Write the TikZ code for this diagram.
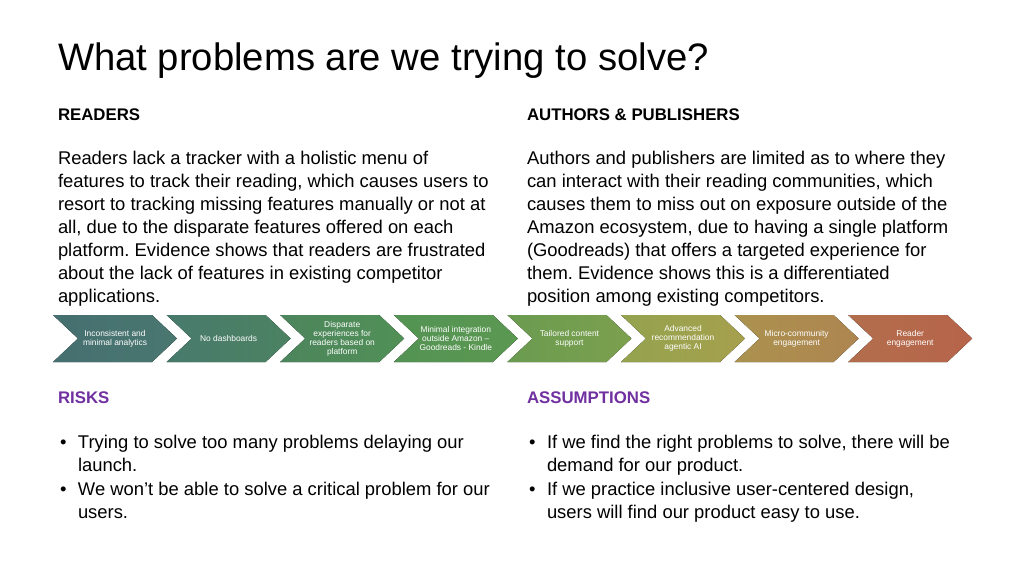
\documentclass[tikz,border=0pt]{standalone}
\usepackage{fontspec}
\setmainfont{Liberation Sans}
\usepackage{tikz}
\frenchspacing

\definecolor{riskpurple}{HTML}{7030A0}
\definecolor{c1l}{HTML}{456F70}\definecolor{c1r}{HTML}{4A7770}
\definecolor{c2l}{HTML}{487A6C}\definecolor{c2r}{HTML}{4C8262}
\definecolor{c3l}{HTML}{4C855C}\definecolor{c3r}{HTML}{519057}
\definecolor{c4l}{HTML}{539353}\definecolor{c4r}{HTML}{5B9852}
\definecolor{c5l}{HTML}{6A9B50}\definecolor{c5r}{HTML}{7CA04E}
\definecolor{c6l}{HTML}{94A34E}\definecolor{c6r}{HTML}{A6A04D}
\definecolor{c7l}{HTML}{AB924F}\definecolor{c7r}{HTML}{AE8550}
\definecolor{c8l}{HTML}{B26E4C}\definecolor{c8r}{HTML}{B7644A}

\begin{document}
\begin{tikzpicture}[x=0.75pt, y=-0.75pt,
    every node/.style={inner sep=0pt, outer sep=0pt},
    title/.style={anchor=base west, font=\fontsize{28.7}{34}\selectfont},
    heading/.style={anchor=base west, font=\fontsize{12.6}{15}\selectfont\bfseries},
    body/.style={anchor=base west, align=left, font=\fontsize{13.8}{17.25}\selectfont},
    chevtext/.style={align=center, text=white, font=\fontsize{6.3}{6.7}\selectfont}]
    \useasboundingbox[fill=white] (0,0) rectangle (1024,576);

    \node[title] (ttl) at (58,70) {What problems are we trying to solve?};

    \node[heading] (rdr) at (58,120) {READERS};
    \node[heading] (auth) at (527,120) {AUTHORS \& PUBLISHERS};

    % body nodes sit on the baseline of their last line
    \node[body] (rdrtxt) at (58,302) {Readers lack a tracker with a holistic menu of\\
      features to track their reading, which causes users to\\
      resort to tracking missing features manually or not at\\
      all, due to the disparate features offered on each\\
      platform. Evidence shows that readers are frustrated\\
      about the lack of features in existing competitor\\
      applications.};
    \node[body] (authtxt) at (527,302) {Authors and publishers are limited as to where they\\
      can interact with their reading communities, which\\
      causes them to miss out on exposure outside of the\\
      Amazon ecosystem, due to having a single platform\\
      (Goodreads) that offers a targeted experience for\\
      them. Evidence shows this is a differentiated\\
      position among existing competitors.};

    % chevron row
    \foreach \i/\txt in {1/{Inconsistent and\\minimal analytics},
        2/{No dashboards},
        3/{Disparate\\experiences for\\readers based on\\platform},
        4/{Minimal integration\\outside Amazon --\\Goodreads - Kindle},
        5/{Tailored content\\support},
        6/{Advanced\\recommendation\\agentic AI},
        7/{Micro-community\\engagement},
        8/{Reader\\engagement}} {
      \pgfmathsetmacro{\xl}{53+113.6*(\i-1)}
      \fill[left color=c\i l, right color=c\i r] (\xl,315) -- ++(99,0) -- ++(25,23.5)
        -- ++(-25,23.5) -- ++(-99,0) -- ++(25,-23.5) -- cycle;
      \node[chevtext] (chev\i) at (\xl+62,338.5) {\txt};
    }

    \node[heading, text=riskpurple] (risk) at (58,403) {RISKS};
    \node[heading, text=riskpurple] (assm) at (527,403) {ASSUMPTIONS};

    \node[body] (risk1) at (78,471) {\llap{\textbullet\hspace{8.6pt}}Trying to solve too many problems delaying our\\launch.};
    \node[body] (risk2) at (78,518) {\llap{\textbullet\hspace{8.6pt}}We won’t be able to solve a critical problem for our\\users.};
    \node[body] (assm1) at (547,471) {\llap{\textbullet\hspace{8.6pt}}If we find the right problems to solve, there will be\\demand for our product.};
    \node[body] (assm2) at (547,518) {\llap{\textbullet\hspace{8.6pt}}If we practice inclusive user-centered design,\\users will find our product easy to use.};
  \end{tikzpicture}
\end{document}
